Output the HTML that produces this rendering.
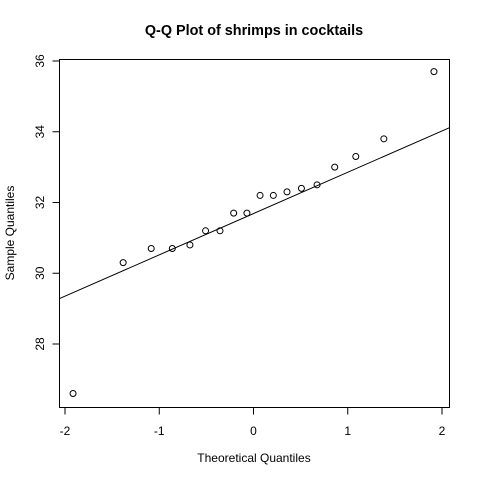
<!DOCTYPE html>
<html><head><meta charset="utf-8"><style>
html,body{margin:0;padding:0;background:#fff;}
svg{display:block;font-family:"Liberation Sans",sans-serif;}
</style></head><body>
<svg id="chart" width="480" height="480" viewBox="0 0 480 480">
<rect width="480" height="480" fill="#fff"/>
<text x="254" y="35" text-anchor="middle" font-size="14.4" font-weight="bold">Q-Q Plot of shrimps in cocktails</text>
<text x="254" y="462" text-anchor="middle" font-size="12">Theoretical Quantiles</text>
<text transform="translate(14,233) rotate(-90)" text-anchor="middle" font-size="12">Sample Quantiles</text>
<rect x="59.5" y="59.5" width="390" height="348" fill="none" stroke="#000"/>
<g id="axes"></g>
<g id="marks"></g>
</svg>
<script>
const sampleValues=[26.6,30.3,30.7,30.7,30.8,31.2,31.2,31.7,31.7,32.2,32.2,32.3,32.4,32.5,33.0,33.3,33.8,35.7];
const xTicks=[-2,-1,0,1,2];
const yTicks=[28,30,32,34,36];
const NS="http://www.w3.org/2000/svg";
const X0=59.5,X1=449.5,Y0=59.5,Y1=407.5;
function xs(v){return 253.5+v*94.25;}
function ys(v){return 344-(v-28)*35.375;}
function qnorm(p){
 // Acklam approximation
 const a=[-39.69683028665376,220.9460984245205,-275.9285104469687,138.3577518672690,-30.66479806614716,2.506628277459239];
 const b=[-54.47609879822406,161.5858368580409,-155.6989798598866,66.80131188771972,-13.28068155288572];
 const c=[-0.007784894002430293,-0.3223964580411365,-2.400758277161838,-2.549732539343734,4.374664141464968,2.938163982698783];
 const d=[0.007784695709041462,0.3224671290700398,2.445134137142996,3.754408661907416];
 let q,r;
 if(p<0.02425){q=Math.sqrt(-2*Math.log(p));return (((((c[0]*q+c[1])*q+c[2])*q+c[3])*q+c[4])*q+c[5])/((((d[0]*q+d[1])*q+d[2])*q+d[3])*q+1);}
 if(p>1-0.02425){q=Math.sqrt(-2*Math.log(1-p));return -(((((c[0]*q+c[1])*q+c[2])*q+c[3])*q+c[4])*q+c[5])/((((d[0]*q+d[1])*q+d[2])*q+d[3])*q+1);}
 q=p-0.5;r=q*q;return (((((a[0]*r+a[1])*r+a[2])*r+a[3])*r+a[4])*r+a[5])*q/(((((b[0]*r+b[1])*r+b[2])*r+b[3])*r+b[4])*r+1);
}
function el(t,attrs,parent){const e=document.createElementNS(NS,t);for(const k in attrs)e.setAttribute(k,attrs[k]);parent.appendChild(e);return e;}
const axes=document.getElementById('axes'),marks=document.getElementById('marks');
// x axis
let xl=el('line',{x1:xs(xTicks[0]),x2:xs(xTicks[xTicks.length-1]),y1:Y1,y2:Y1,stroke:'#000'},axes);


xTicks.forEach(t=>{
 const l=el('line',{x1:xs(t),x2:xs(t),y1:Y1,y2:Y1+7,stroke:'#000'},axes);
 
 
 const tx=el('text',{x:xs(t),y:435,'text-anchor':'middle','font-size':12},axes);
 tx.textContent=t;
 
 
});
let yl=el('line',{x1:X0,x2:X0,y1:ys(yTicks[0]),y2:ys(yTicks[yTicks.length-1]),stroke:'#000'},axes);


yTicks.forEach(t=>{
 const l=el('line',{x1:X0-7,x2:X0,y1:ys(t),y2:ys(t),stroke:'#000'},axes);
 
 
 const tx=el('text',{transform:`translate(44,${ys(t)}) rotate(-90)`,'text-anchor':'middle','font-size':12},axes);
 tx.textContent=t;
 
 
});
// points
const sorted=sampleValues.slice().sort((a,b)=>a-b);
const n=sorted.length;
const a=n<=10?3/8:0.5;
sorted.forEach((v,i)=>{
 const tq=qnorm((i+1-a)/(n+1-2*a));
 const c=el('circle',{cx:xs(tq),cy:ys(v),r:3,fill:'none',stroke:'#000'},marks);
 
 
});
// qqline
function quant(p){const h=(n-1)*p;const lo=Math.floor(h);return sorted[lo]+(h-lo)*((sorted[lo+1]??sorted[lo])-sorted[lo]);}
const q1=quant(0.25),q3=quant(0.75),z=qnorm(0.75);
const slope=(q3-q1)/(2*z),icpt=q1+slope*z;
const xa=(X0-253.5)/94.25,xb=(X1-253.5)/94.25;
const ql=el('line',{x1:X0,x2:X1,y1:ys(icpt+slope*xa),y2:ys(icpt+slope*xb),stroke:'#000'},marks);


</script>
</body></html>
